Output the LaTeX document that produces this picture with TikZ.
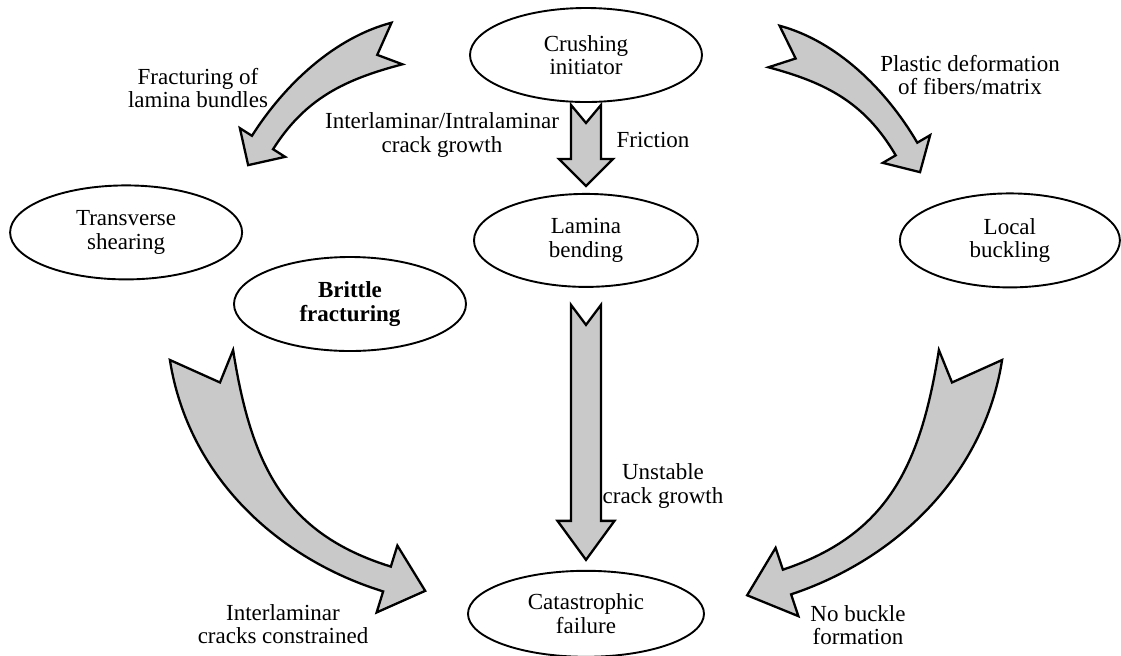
\documentclass[tikz,border=0pt]{standalone}
\usepackage{fontspec}
\setmainfont{Liberation Serif}
\usetikzlibrary{positioning, calc, shapes.geometric}

% tail, bend, head base, tail half width, neck half width, head half width, head length, notch depth, notch shift
\newcommand{\blockarrow}[9]{%
	\coordinate (t1) at ($(#1)!#4!90:(#2)$);
	\coordinate (t2) at ($(#1)!#4!-90:(#2)$);
	\coordinate (n0) at ($(#1)!#8!(#2)$);
	\coordinate (nn) at ($(n0)!#9!90:(#2)$);
	\coordinate (h1) at ($(#3)!#5!-90:(#2)$);
	\coordinate (h2) at ($(#3)!#5!90:(#2)$);
	\coordinate (w1) at ($(#3)!#6!-90:(#2)$);
	\coordinate (w2) at ($(#3)!#6!90:(#2)$);
	\coordinate (tp) at ($(#3)!-#7!(#2)$);
	\coordinate (ca) at ($(#1)!2/3!(#2)$);
	\coordinate (cb) at ($(#3)!2/3!(#2)$);
	\draw[fat] (t1) .. controls ($(t1)+(ca)-(#1)$) and ($(h1)+(cb)-(#3)$) .. (h1)
		-- (w1) -- (tp) -- (w2) -- (h2)
		.. controls ($(h2)+(cb)-(#3)$) and ($(t2)+(ca)-(#1)$) .. (t2) -- (nn) -- cycle;
}

\begin{document}
\begin{tikzpicture}
	[
	x = 0.5pt, y = -0.5pt,
	font = \fontsize{11.5}{11.8}\selectfont,
	stage/.style = {ellipse, draw, line width = 0.95pt, inner sep = 0pt, minimum width = 116pt, minimum height = 47pt, align = center},
	note/.style = {align = center, inner sep = 1pt},
	fat/.style = {draw, line width = 1.15pt, fill = gray!42, line join = miter}
	]
	\useasboundingbox (0,0) rectangle (1121,655);
	
	\node[stage] (crush) at (586,55) {Crushing\\initiator};
	\node[stage, minimum width = 112pt, minimum height = 46.5pt, below = 45pt of crush] (lamina) {Lamina\\bending};
	\node[stage, minimum width = 118pt, minimum height = 43pt, below = 141pt of lamina] (cata) {Catastrophic\\failure};
	\node[stage, left = 115pt of lamina, yshift = 4pt] (trans) {Transverse\\shearing};
	\node[stage, minimum width = 110pt, right = 100pt of lamina] (local) {Local\\buckling};
	\node[stage, font = \fontsize{11.5}{11.8}\selectfont\bfseries] (brittle) at (350,304) {Brittle\\fracturing};
	
	\node[note] (lfrac) at (198,88) {Fracturing of\\lamina bundles};
	\node[note] (linter) at (442,135) {Interlaminar/Intralaminar\\crack growth};
	\node[note] (lfric) at (653,140) {Friction};
	\node[note] (lplast) at (970,75) {Plastic deformation\\of fibers/matrix};
	\node[note] (lunst) at (663,486) {Unstable\\crack growth};
	\node[note] (lcons) at (283,624) {Interlaminar\\cracks constrained};
	\node[note] (lnobk) at (858,625) {No buckle\\formation};
	
	\coordinate (a1t) at (397,43.5);
	\coordinate (a1c) at (311,66);
	\coordinate (a1h) at (262.5,142.5);
	\coordinate (a2t) at (774,46.5);
	\coordinate (a2c) at (860,69.5);
	\coordinate (a2h) at (906.5,149);
	\coordinate (a3t) at ($(crush.south)+(0,2)$);
	\coordinate (a3h) at ($(lamina.north)+(0,-34)$);
	\coordinate (a4t) at ($(lamina.south)+(0,17)$);
	\coordinate (a4h) at ($(cata.north)+(0,-49)$);
	\coordinate (a5t) at (201.5,355);
	\coordinate (a5c) at (229,530);
	\coordinate (a5h) at (387,579);
	\coordinate (a6t) at (970.5,355);
	\coordinate (a6c) at (943,530);
	\coordinate (a6h) at (787,582);
	
	\blockarrow{a1t}{a1c}{a1h}{10.75pt}{6.25pt}{13.4pt}{13.4pt}{11pt}{3pt}
	\blockarrow{a2t}{a2c}{a2h}{10.75pt}{6.25pt}{13.7pt}{13.4pt}{12pt}{-3pt}
	\blockarrow{a3t}{$(a3t)!.5!(a3h)$}{a3h}{7.5pt}{7.5pt}{13.5pt}{13.5pt}{9pt}{0pt}
	\blockarrow{a4t}{$(a4t)!.5!(a4h)$}{a4h}{7.5pt}{7.5pt}{14.25pt}{19.5pt}{10pt}{0pt}
	\blockarrow{a5t}{a5c}{a5h}{16pt}{6.5pt}{17.5pt}{20pt}{15pt}{7pt}
	\blockarrow{a6t}{a6c}{a6h}{16pt}{6.5pt}{18pt}{21pt}{15pt}{-7pt}
\end{tikzpicture}
\end{document}
